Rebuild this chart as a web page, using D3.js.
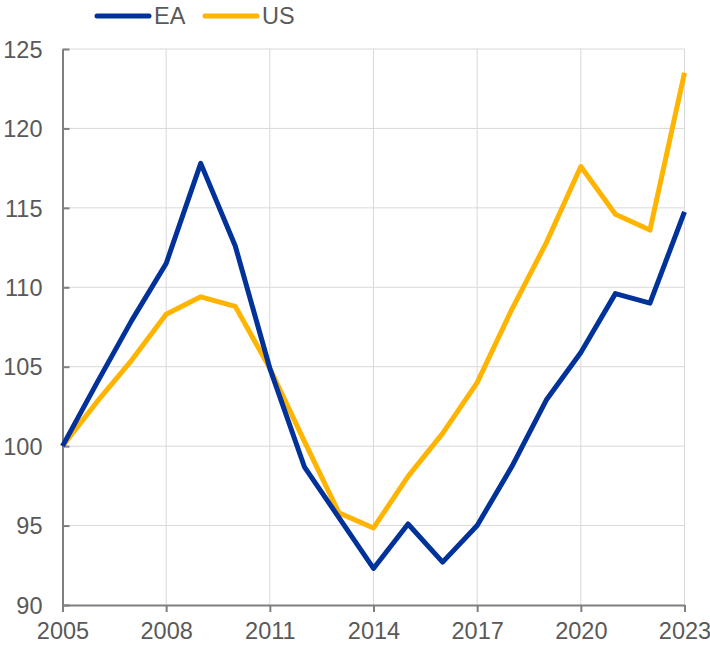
<!DOCTYPE html>
<html>
<head>
<meta charset="utf-8">
<script src="https://cdn.jsdelivr.net/npm/d3@7"></script>
<style>
    body { margin: 0; background: #fff; }
    text { font-family: "Liberation Sans", Arial, sans-serif; fill: #595959; }
</style>
</head>
<body>
<div id="chart"></div>
<script>
//Chart data
var years = [2005,2006,2007,2008,2009,2010,2011,2012,2013,2014,2015,2016,2017,2018,2019,2020,2021,2022,2023];
var ea = [100,104,107.9,111.5,117.8,112.6,104.9,98.7,95.5,92.3,95.1,92.7,95.0,98.7,102.9,105.9,109.6,109.0,114.75];
var us = [100,102.8,105.4,108.3,109.4,108.8,104.9,100.3,95.8,94.85,98.1,100.8,104.0,108.6,112.8,117.6,114.6,113.6,123.5];
var xTicks = [2005,2008,2011,2014,2017,2020,2023];
var yTicks = [90,95,100,105,110,115,120,125];
var seriesNames = ["EA","US"];
var colors = {EA: "#003299", US: "#ffb400"};

var width = 710,
    height = 645;

var svg = d3.select("#chart")
    .append("svg")
    .attr("width",width)
    .attr("height",height);

//Scales
var x = d3.scaleLinear()
    .domain([2005,2023])
    .range([62.5,684.5]);
var y = d3.scaleLinear()
    .domain([90,125])
    .range([605,49]);

//Gridlines
svg.append("g")
    .selectAll("line")
    .data(yTicks.slice(1))
    .enter()
    .append("line")
    .attr("x1",x(2005))
    .attr("x2",x(2023))
    .attr("y1",function(d) { return y(d); })
    .attr("y2",function(d) { return y(d); })
    .style("stroke","#d9d9d9")
    .style("stroke-width",1);

svg.append("g")
    .selectAll("line")
    .data(xTicks.slice(1))
    .enter()
    .append("line")
    .attr("x1",function(d) { return x(d); })
    .attr("x2",function(d) { return x(d); })
    .attr("y1",y(90))
    .attr("y2",y(125))
    .style("stroke","#d9d9d9")
    .style("stroke-width",1);

//Axes
var xAxis = svg.append("g")
    .attr("transform","translate(0," + y(90) + ")")
    .call(d3.axisBottom(x)
        .tickValues(xTicks)
        .tickFormat(d3.format("d"))
        .tickSizeInner(7)
        .tickSizeOuter(0)
        .tickPadding(10));

var yAxis = svg.append("g")
    .attr("transform","translate(" + x(2005) + ",0)")
    .call(d3.axisLeft(y)
        .tickValues(yTicks)
        .tickSizeInner(-7)
        .tickSizeOuter(0)
        .tickPadding(20));

[xAxis,yAxis].forEach(function(a) {
    a.select(".domain").style("stroke","#7f7f7f").style("stroke-width",2);
    a.selectAll(".tick line").style("stroke","#7f7f7f").style("stroke-width",2);
    a.selectAll("text")
        .style("font-size","23.5px")
        .style("fill","#595959")
        .style("font-family","'Liberation Sans', Arial, sans-serif");
});
yAxis.selectAll("text").attr("dy","0.35em");

//Lines
var line = d3.line()
    .x(function(d) { return x(d.year); })
    .y(function(d) { return y(d.value); });

var series = [
    {name: "US", values: years.map(function(yr,i) { return {year: yr, value: us[i]}; })},
    {name: "EA", values: years.map(function(yr,i) { return {year: yr, value: ea[i]}; })}
];

svg.append("g")
    .selectAll("path")
    .data(series)
    .enter()
    .append("path")
    .attr("d",function(d) { return line(d.values); })
    .style("fill","none")
    .style("stroke",function(d) { return colors[d.name]; })
    .style("stroke-width",5)
    .style("stroke-linejoin","round");

//Legend
var legend = svg.append("g")
    .selectAll("g")
    .data(seriesNames)
    .enter()
    .append("g")
    .attr("transform",function(d,i) { return "translate(" + (97 + i * 108) + ",16)"; });

legend.append("line")
    .attr("x1",0)
    .attr("x2",52)
    .style("stroke",function(d) { return colors[d]; })
    .style("stroke-width",5)
    .style("stroke-linecap","round");

legend.append("text")
    .attr("x",57)
    .attr("dy","0.35em")
    .style("font-size","23.5px")
    .text(function(d) { return d; });
</script>
</body>
</html>
